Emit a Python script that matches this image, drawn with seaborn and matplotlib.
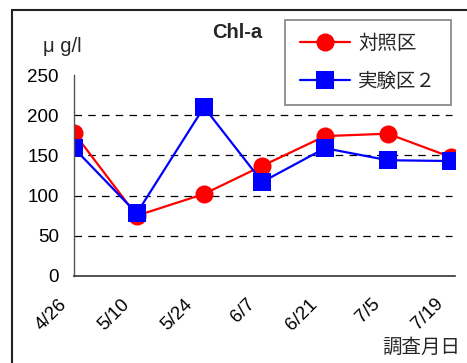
import pandas as pd
import numpy as np
import matplotlib
matplotlib.use("Agg")
import matplotlib.pyplot as plt
import matplotlib.transforms as mtransforms
from matplotlib.lines import Line2D
import seaborn as sns

# データ
tick_labels = ["4/26", "5/10", "5/24", "6/7", "6/21", "7/5", "7/19"]
tick_days = [0, 14, 28, 42, 56, 70, 84]
survey_days = [0, 14, 29, 42, 56, 70, 84]
control = [178, 75, 102, 137, 174, 177, 148]
exp2 = [159, 78, 210, 117, 159, 144, 143]
series_names = ["対照区", "実験区２"]

df = pd.DataFrame({
    "day": survey_days * 2,
    "value": control + exp2,
    "group": [series_names[0]] * len(control) + [series_names[1]] * len(exp2),
})

sns.set_style("white")
plt.rcParams["font.family"] = ["Liberation Sans", "Noto Sans CJK JP"]

fig = plt.figure(figsize=(4.67, 3.63), dpi=100)
ax = fig.add_axes([74 / 467, 87 / 363, 381 / 467, 201 / 363])

sns.lineplot(data=df, x="day", y="value", hue="group", style="group",
             palette={series_names[0]: "#FF0000", series_names[1]: "#0000FF"},
             markers={series_names[0]: "o", series_names[1]: "s"},
             dashes=False, markersize=13, markeredgewidth=0, linewidth=1.6,
             ax=ax, legend=False)

ax.set_xlim(0, 85)
ax.set_ylim(0, 250)
ax.set_yticks([0, 50, 100, 150, 200, 250])
ax.set_xticks(tick_days)
ax.set_xticklabels(tick_labels, rotation=45, ha="right", va="top")
ax.set_xlabel("")
ax.set_ylabel("")

# 破線グリッド
for y in [50, 100, 150, 200]:
    ax.axhline(y, xmin=0, xmax=451 / 455, color="black", linestyle=(0, (6, 5)),
               linewidth=0.9, zorder=0)

for side in ["top", "right"]:
    ax.spines[side].set_visible(False)
ax.spines["left"].set_color("#555555")
ax.spines["bottom"].set_color("#333333")
ax.spines["left"].set_linewidth(1.0)
ax.spines["bottom"].set_linewidth(1.2)

ax.tick_params(axis="both", direction="in", length=6, width=1, color="#333333",
               labelsize=13.5, labelcolor="black")
ax.tick_params(axis="y", pad=11)
ax.tick_params(axis="x", pad=14)
shift = mtransforms.ScaledTranslation(-4 / 100, 0, fig.dpi_scale_trans)
for lab in ax.get_xticklabels():
    lab.set_transform(lab.get_transform() + shift)

# 凡例
handles = [
    Line2D([], [], color="#FF0000", marker="o", markersize=13, markeredgewidth=0, linewidth=1.6),
    Line2D([], [], color="#0000FF", marker="s", markersize=13, markeredgewidth=0, linewidth=1.6),
]
leg = ax.legend(handles, series_names, loc="upper left",
                bbox_to_anchor=(285 / 467, 1 - 20 / 363), bbox_transform=fig.transFigure,
                borderaxespad=0, fontsize=14, frameon=True, fancybox=False,
                handlelength=2.6, handletextpad=0.4, labelspacing=1.0, borderpad=0.75)
leg.get_frame().set_edgecolor("#777777")
leg.get_frame().set_linewidth(1.4)

# テキスト
fig.text(237 / 467, 1 - 33 / 363, "Chl-a", ha="center", va="center",
         fontsize=14.5, fontweight="bold")
fig.text(43 / 467, 1 - 46 / 363, "μ g/l", ha="left", va="center", fontsize=14.5)
fig.text(460 / 467, 1 - 348 / 363, "調査月日", ha="right", va="center", fontsize=14)

# 外枠
fig.add_artist(Line2D([12 / 467, 1], [1 - 10 / 363, 1 - 10 / 363],
                      transform=fig.transFigure, color="#222222", linewidth=1.5))
fig.add_artist(Line2D([12 / 467, 12 / 467], [0, 1 - 10 / 363],
                      transform=fig.transFigure, color="#222222", linewidth=1.5))

fig.savefig("out.png", dpi=100)
